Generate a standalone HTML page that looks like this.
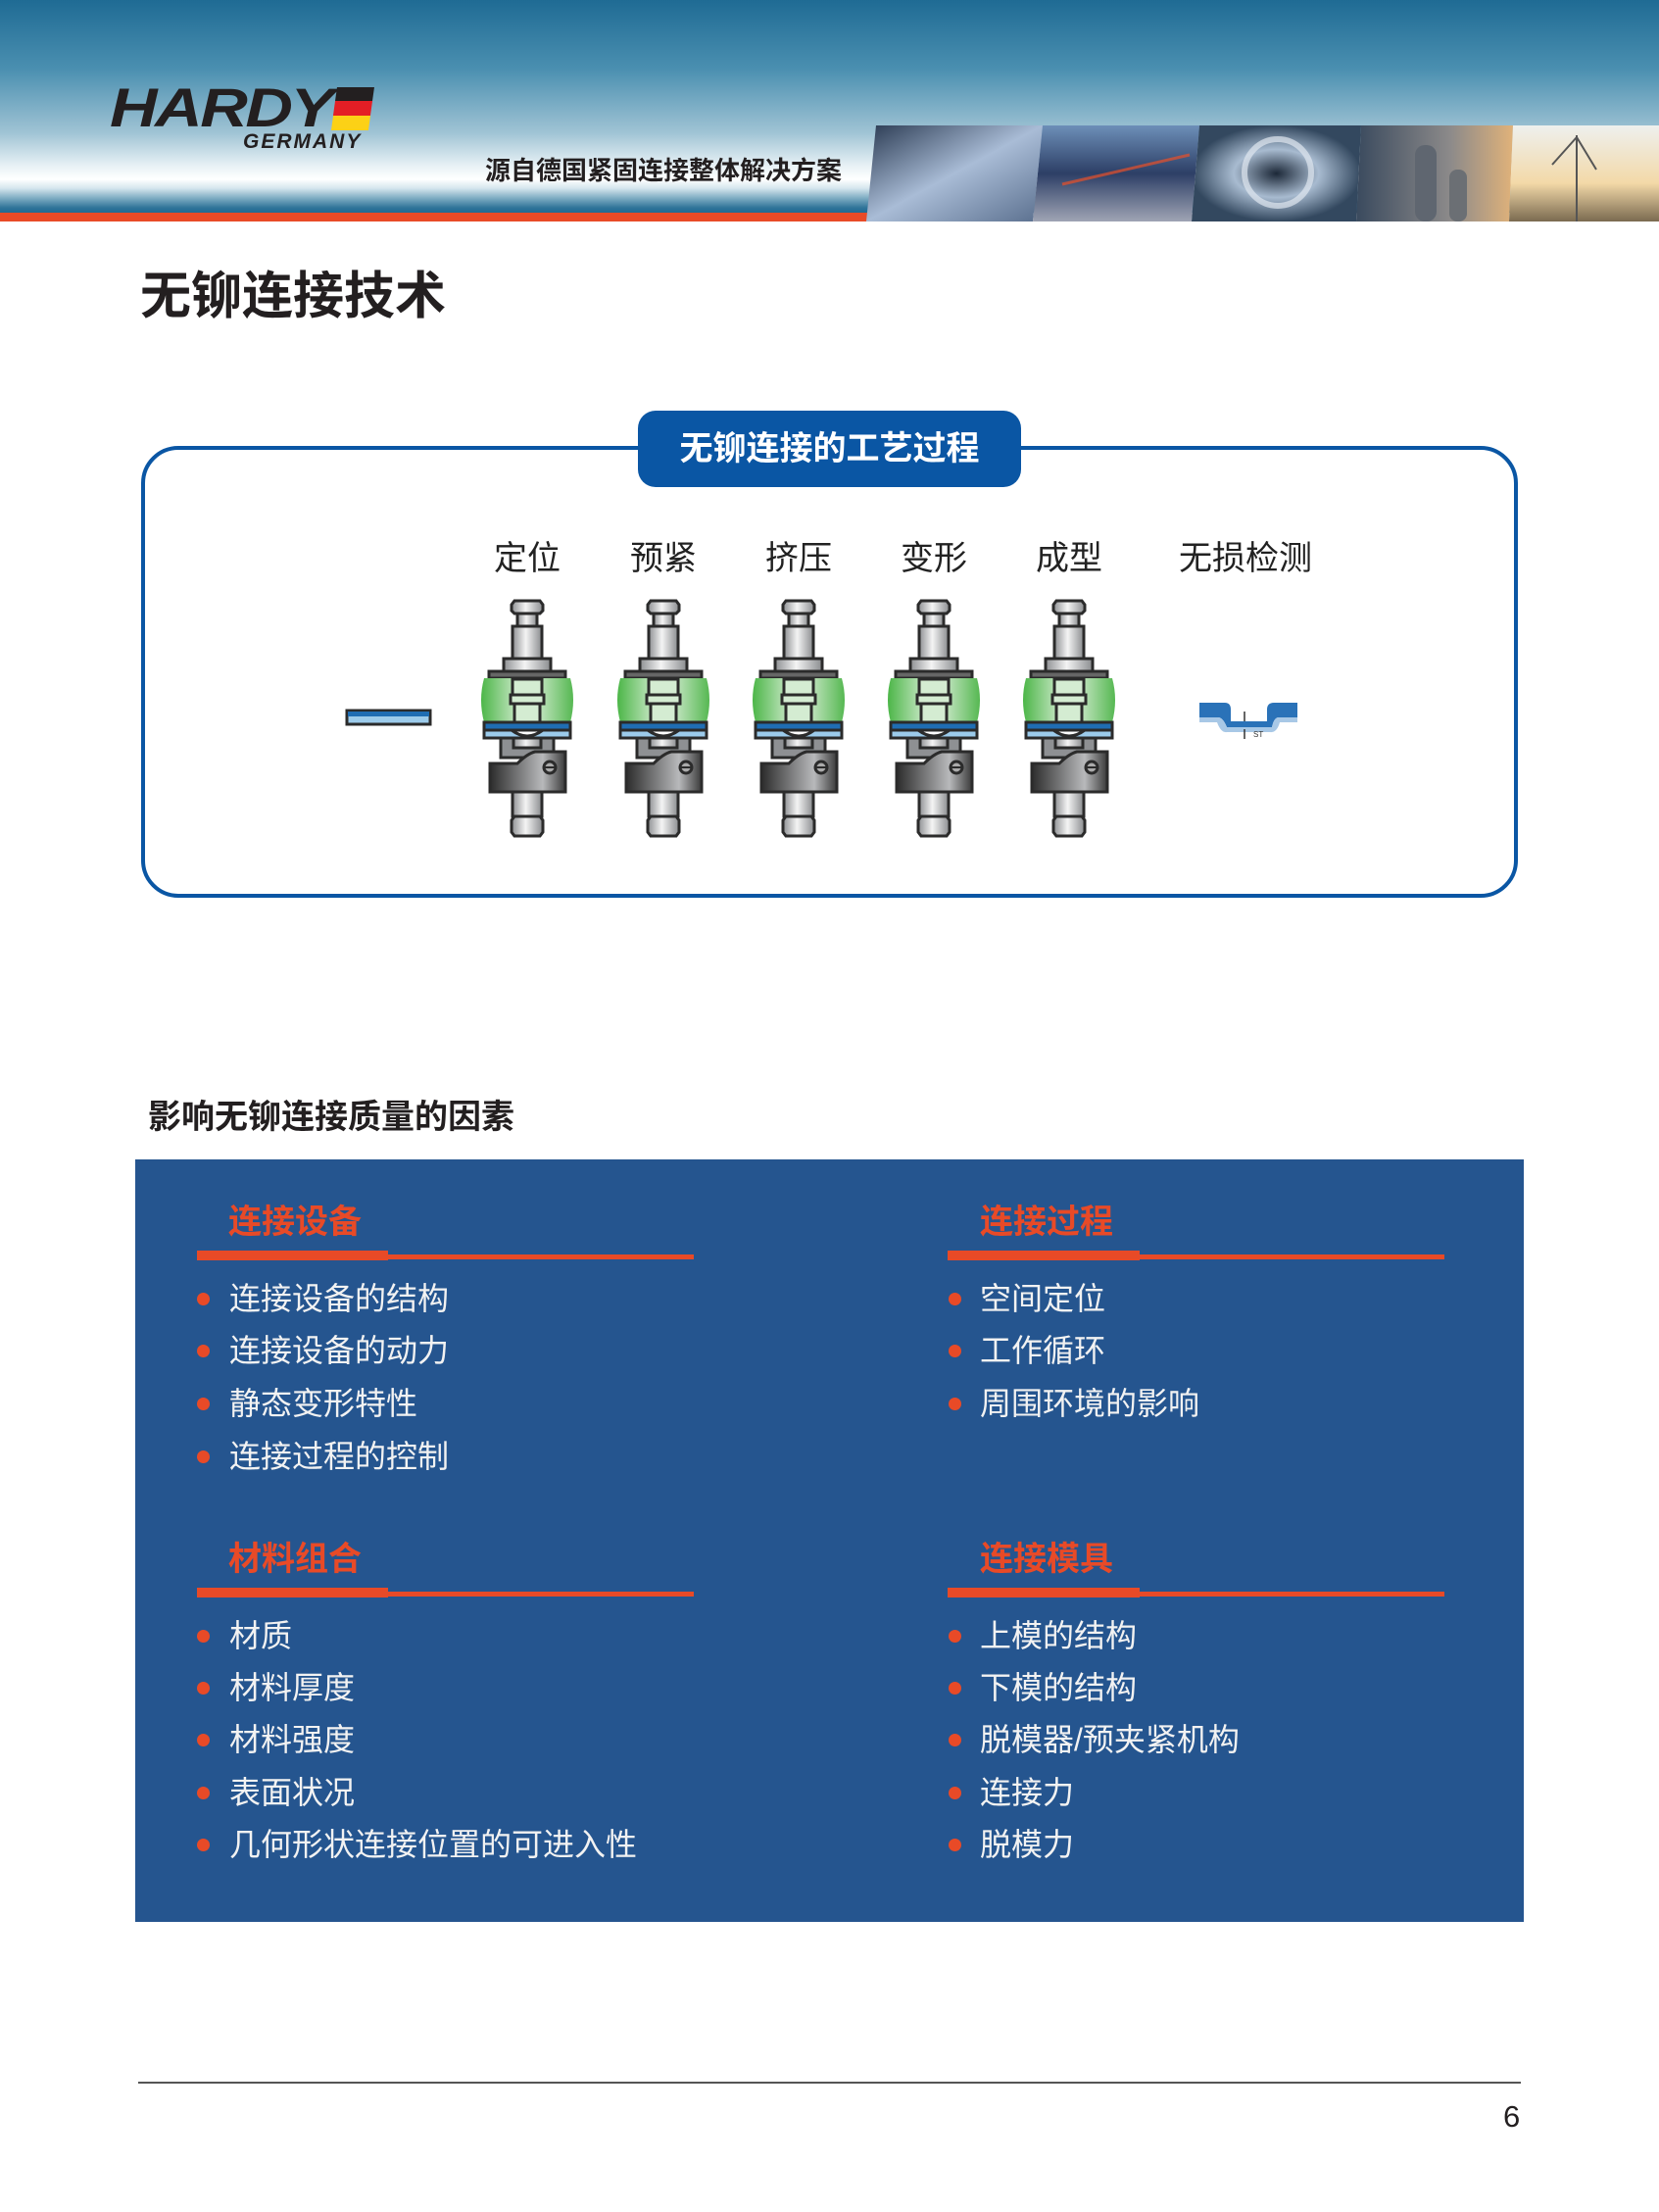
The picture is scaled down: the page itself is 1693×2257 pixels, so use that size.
<!DOCTYPE html>
<html><head><meta charset="utf-8">
<style>
*{margin:0;padding:0;box-sizing:border-box}
body{width:1693px;height:2257px;position:relative;background:#fff;overflow:hidden;font-family:"Liberation Sans","Noto Sans CJK SC",sans-serif}
.a{position:absolute;white-space:nowrap}
.hd{font-weight:bold;color:#e84a27;font-size:34px;line-height:34px}
.it{color:#f2f2f2;font-size:32px;line-height:32px}
.bl{position:absolute;width:13px;height:13px;border-radius:50%;background:#e84a27}
.lab{font-size:34px;line-height:34px;color:#222;transform:translateX(-50%)}
</style></head><body>
<!-- header -->
<div class="a" style="left:0;top:0;width:1693px;height:217px;background:linear-gradient(#1f6b94 0px,#4a8fb0 70px,#9fc3d4 135px,#e9f2f6 170px,#ffffff 183px,#d6e6ee 192px,#7fadc3 202px,#2f7499 212px,#1f6a92 217px)"></div>
<div class="a" style="left:0;top:217px;width:890px;height:9px;background:#e84a27"></div>
<svg class="a" style="left:884px;top:128px" width="809" height="98">
<defs>
<linearGradient id="p1" x1="0" y1="0" x2="1" y2="1"><stop offset="0" stop-color="#2a3a52"/><stop offset=".5" stop-color="#a9bcd6"/><stop offset="1" stop-color="#5a6f8e"/></linearGradient>
<linearGradient id="p2" x1="0" y1="0" x2="0" y2="1"><stop offset="0" stop-color="#6d8fb8"/><stop offset=".5" stop-color="#2d3f66"/><stop offset="1" stop-color="#9fa4b4"/></linearGradient>
<radialGradient id="p3"><stop offset="0" stop-color="#1c2838"/><stop offset=".5" stop-color="#a8bbd0"/><stop offset="1" stop-color="#33485f"/></radialGradient>
<linearGradient id="p4" x1="0" y1="0" x2="1" y2="0"><stop offset="0" stop-color="#3a4a5e"/><stop offset=".6" stop-color="#8c8a8a"/><stop offset="1" stop-color="#e0b27a"/></linearGradient>
<linearGradient id="p5" x1="0" y1="0" x2="0" y2="1"><stop offset="0" stop-color="#eef0ee"/><stop offset=".6" stop-color="#f3d9a8"/><stop offset="1" stop-color="#7a6a50"/></linearGradient>
</defs>
<polygon points="10,0 180,0 170,98 0,98" fill="url(#p1)"/>
<polygon points="180,0 340,0 332,98 170,98" fill="url(#p2)"/>
<polygon points="340,0 505,0 500,98 332,98" fill="url(#p3)"/>
<polygon points="505,0 660,0 656,98 500,98" fill="url(#p4)"/>
<polygon points="660,0 809,0 809,98 656,98" fill="url(#p5)"/>
<path d="M200,60 L330,30" stroke="#e8502a" stroke-width="3" opacity=".7"/>
<circle cx="420" cy="48" r="34" fill="none" stroke="#dfe7ef" stroke-width="6" opacity=".7"/>
<rect x="560" y="20" width="22" height="78" rx="10" fill="#5f6670"/><rect x="595" y="45" width="18" height="53" rx="8" fill="#6b6f74"/>
<path d="M725,10 V98 M725,12 L700,40 M725,12 L745,45" stroke="#555" stroke-width="2"/>
</svg>
<div class="a" style="left:112px;top:82px;font-size:56px;line-height:56px;font-weight:900;font-style:italic;color:#231f20;letter-spacing:-2px;transform:scaleX(1.2);transform-origin:left">HARDY</div>
<div class="a" style="left:343px;top:89px;width:38px;height:14px;background:#231f20;transform:skewX(-8deg)"></div>
<div class="a" style="left:341px;top:103px;width:38px;height:15px;background:#e41e25;transform:skewX(-8deg)"></div>
<div class="a" style="left:339px;top:118px;width:38px;height:15px;background:#fcd116;transform:skewX(-8deg)"></div>
<div class="a" style="left:248px;top:134px;font-size:21px;line-height:21px;font-weight:bold;font-style:italic;color:#231f20;letter-spacing:2px">GERMANY</div>
<div class="a" style="left:495px;top:161px;font-size:26px;line-height:26px;font-weight:bold;color:#231f20">源自德国紧固连接整体解决方案</div>
<!-- title -->
<div class="a" style="left:143px;top:276px;font-size:52px;line-height:54px;font-weight:bold;color:#231f20">无铆连接技术</div>
<!-- process box -->
<div class="a" style="left:144px;top:455px;width:1405px;height:461px;border:4px solid #0a56a4;border-radius:38px"></div>
<div class="a" style="left:651px;top:419px;width:391px;height:78px;background:#0a56a4;border-radius:18px;color:#fff;font-weight:bold;font-size:34px;line-height:78px;text-align:center">无铆连接的工艺过程</div>
<div class="a lab" style="left:538px;top:553px">定位</div>
<div class="a lab" style="left:677px;top:553px">预紧</div>
<div class="a lab" style="left:815px;top:553px">挤压</div>
<div class="a lab" style="left:953px;top:553px">变形</div>
<div class="a lab" style="left:1091px;top:553px">成型</div>
<div class="a lab" style="left:1271px;top:553px">无损检测</div>
<svg class="a" style="left:0;top:0" width="1693" height="1000">
<defs>
<linearGradient id="m" x1="0" y1="0" x2="1" y2="0"><stop offset="0" stop-color="#8d8f92"/><stop offset=".45" stop-color="#f4f4f4"/><stop offset="1" stop-color="#8a8c8f"/></linearGradient>
<linearGradient id="dk" x1="0" y1="0" x2="1" y2="0"><stop offset="0" stop-color="#2c2c2c"/><stop offset=".7" stop-color="#b8b9bb"/><stop offset="1" stop-color="#3a3a3a"/></linearGradient>
<linearGradient id="g" x1="0" y1="0" x2="1" y2="0"><stop offset="0" stop-color="#4cb648"/><stop offset=".5" stop-color="#e8f4e6"/><stop offset="1" stop-color="#56b852"/></linearGradient>
<g id="tool" stroke="#2b2b2b" stroke-width="3">
<path d="M-13,0 H13 L16,4 V10 L13,13 H-13 L-16,10 V4 Z" fill="url(#m)"/>
<rect x="-10" y="13" width="20" height="13" fill="url(#m)"/>
<rect x="-15" y="26" width="30" height="33" fill="url(#m)"/>
<rect x="-24" y="59" width="48" height="13" fill="url(#m)"/>
<rect x="-39" y="72" width="78" height="7" fill="#666"/>
<path d="M-44,79 Q-50,101 -44,124 H44 Q50,101 44,79 Z" fill="url(#g)" stroke="none"/>
<rect x="-15" y="80" width="30" height="16" fill="#d4ecd2"/>
<rect x="-17" y="96" width="34" height="9" fill="#d4ecd2"/>
<rect x="-13" y="105" width="26" height="19" fill="#d4ecd2"/>
<rect x="-44" y="124" width="88" height="8" fill="#1f6db3"/>
<path d="M-44,132 H-16 Q0,144 16,132 H44 V140 H-44 Z" fill="#9ccbeb"/>
<path d="M-27,140 H27 V160 H-27 Z" fill="#8e9093"/>
<path d="M-14,140 H14 V150 H-14 Z" fill="url(#m)"/>
<path d="M-38,166 H-10 Q0,156 8,154 H39 V195 H-38 Z" fill="url(#dk)"/>
<circle cx="23" cy="170" r="6" fill="#aaa"/><path d="M17,170 H29" stroke-width="2"/>
<rect x="-15" y="195" width="30" height="25" fill="url(#m)"/>
<path d="M-13,220 H13 L16,224 V236 L13,240 H-13 L-16,236 V224 Z" fill="url(#m)"/>
</g>
</defs>
<rect x="354" y="725" width="85" height="14" fill="#9ccbeb" stroke="#2b2b2b" stroke-width="3"/>
<rect x="355" y="726" width="83" height="5" fill="#1f6db3"/>
<use href="#tool" x="538" y="613"/>
<use href="#tool" x="677" y="613"/>
<use href="#tool" x="815" y="613"/>
<use href="#tool" x="953" y="613"/>
<use href="#tool" x="1091" y="613"/>
<path d="M1224,717 H1250 Q1256,717 1256,724 V736 H1293 V724 Q1293,717 1300,717 H1324 V732 H1305 Q1300,732 1298,742 H1252 Q1248,732 1243,732 H1224 Z" fill="#2a72b8"/>
<path d="M1224,732 H1243 Q1248,732 1252,742 H1298 Q1300,732 1305,732 H1324 V737 H1306 Q1303,748 1296,747 H1252 Q1246,748 1242,737 H1224 Z" fill="#a8c8e6"/>
<path d="M1270,726 V736 M1270,744 V754" stroke="#333" stroke-width="1.5"/>
<text x="1279" y="752" font-size="8" fill="#333" font-family="Liberation Sans">ST</text>
</svg>
<!-- factors -->
<div class="a" style="left:151px;top:1122px;font-size:34px;line-height:36px;font-weight:bold;color:#231f20">影响无铆连接质量的因素</div>
<div class="a" style="left:138px;top:1183px;width:1417px;height:778px;background:#25558f"></div>

<div class="a hd" style="left:233px;top:1230px">连接设备</div>
<div class="a" style="left:201px;top:1276px;width:195px;height:10px;background:#e84a27"></div>
<div class="a" style="left:201px;top:1280px;width:507px;height:5px;background:#e84a27"></div>
<div class="bl" style="left:201px;top:1319px"></div><div class="a it" style="left:234px;top:1309px">连接设备的结构</div>
<div class="bl" style="left:201px;top:1372px"></div><div class="a it" style="left:234px;top:1362px">连接设备的动力</div>
<div class="bl" style="left:201px;top:1426px"></div><div class="a it" style="left:234px;top:1416px">静态变形特性</div>
<div class="bl" style="left:201px;top:1480px"></div><div class="a it" style="left:234px;top:1470px">连接过程的控制</div>

<div class="a hd" style="left:1000px;top:1230px">连接过程</div>
<div class="a" style="left:967px;top:1276px;width:196px;height:10px;background:#e84a27"></div>
<div class="a" style="left:967px;top:1280px;width:507px;height:5px;background:#e84a27"></div>
<div class="bl" style="left:968px;top:1319px"></div><div class="a it" style="left:1000px;top:1309px">空间定位</div>
<div class="bl" style="left:968px;top:1372px"></div><div class="a it" style="left:1000px;top:1362px">工作循环</div>
<div class="bl" style="left:968px;top:1426px"></div><div class="a it" style="left:1000px;top:1416px">周围环境的影响</div>

<div class="a hd" style="left:233px;top:1574px">材料组合</div>
<div class="a" style="left:201px;top:1620px;width:195px;height:10px;background:#e84a27"></div>
<div class="a" style="left:201px;top:1624px;width:507px;height:5px;background:#e84a27"></div>
<div class="bl" style="left:201px;top:1663px"></div><div class="a it" style="left:234px;top:1653px">材质</div>
<div class="bl" style="left:201px;top:1716px"></div><div class="a it" style="left:234px;top:1706px">材料厚度</div>
<div class="bl" style="left:201px;top:1769px"></div><div class="a it" style="left:234px;top:1759px">材料强度</div>
<div class="bl" style="left:201px;top:1823px"></div><div class="a it" style="left:234px;top:1813px">表面状况</div>
<div class="bl" style="left:201px;top:1876px"></div><div class="a it" style="left:234px;top:1866px">几何形状连接位置的可进入性</div>

<div class="a hd" style="left:1000px;top:1574px">连接模具</div>
<div class="a" style="left:967px;top:1620px;width:196px;height:10px;background:#e84a27"></div>
<div class="a" style="left:967px;top:1624px;width:507px;height:5px;background:#e84a27"></div>
<div class="bl" style="left:968px;top:1663px"></div><div class="a it" style="left:1000px;top:1653px">上模的结构</div>
<div class="bl" style="left:968px;top:1716px"></div><div class="a it" style="left:1000px;top:1706px">下模的结构</div>
<div class="bl" style="left:968px;top:1769px"></div><div class="a it" style="left:1000px;top:1759px">脱模器/预夹紧机构</div>
<div class="bl" style="left:968px;top:1823px"></div><div class="a it" style="left:1000px;top:1813px">连接力</div>
<div class="bl" style="left:968px;top:1876px"></div><div class="a it" style="left:1000px;top:1866px">脱模力</div>

<!-- footer -->
<div class="a" style="left:141px;top:2124px;width:1411px;height:2px;background:#555"></div>
<div class="a" style="left:1534px;top:2144px;font-size:31px;line-height:32px;color:#231f20">6</div>
</body></html>
